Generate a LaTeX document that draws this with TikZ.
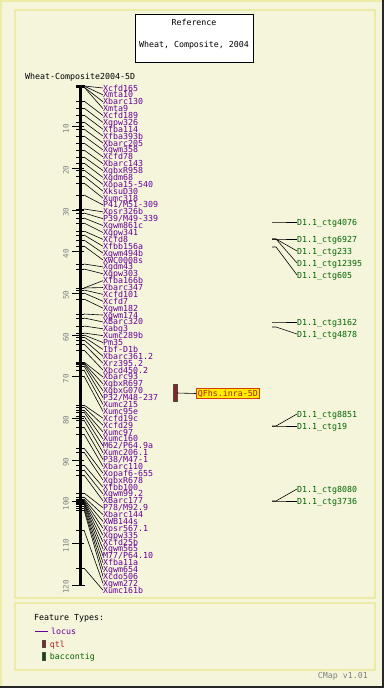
\documentclass[tikz,border=0pt]{standalone}
\usepackage{fontspec}
\newfontfamily\cmapfont{DejaVu Sans Mono}
\usetikzlibrary{positioning}
\definecolor{bgcream}{RGB}{245,245,220}
\definecolor{panelline}{RGB}{236,236,168}
\definecolor{locuscolor}{RGB}{102,0,153}
\definecolor{qtlcolor}{RGB}{140,35,35}
\definecolor{qtltext}{RGB}{170,30,30}
\definecolor{qtlfill}{RGB}{255,236,0}
\definecolor{qtledge}{RGB}{215,60,0}
\definecolor{baccolor}{RGB}{0,100,0}
\definecolor{scalegray}{RGB}{128,128,128}

\begin{document}
\begin{tikzpicture}[x=1pt, y=-1pt, font=\cmapfont\fontsize{8.3}{9}\selectfont]

  \useasboundingbox (0,0) rectangle (384,688);

  \tikzset{
    locus/.style={anchor=west, inner sep=0pt, text height=6pt,
      text depth=0pt, text=locuscolor},
    bac/.style={anchor=west, inner sep=0pt, text height=6pt,
      text depth=0pt, text=baccolor},
    marktick/.style={line width=0.8pt, black},
    markline/.style={line width=0.6pt, black},
    scalelab/.style={rotate=90, inner sep=0pt, text=scalegray,
      font=\cmapfont\fontsize{7.5}{8}\selectfont},
    legbar/.style={draw=black!70, line width=0.4pt, minimum width=3pt,
      inner sep=0pt}
  }

  % ---- frame and panels ----
  \fill[bgcream] (0,0) rectangle (384,688);
  \draw[panelline, line width=2pt] (1,688) -- (1,1) -- (384,1);
  \draw[black!85, line width=2pt] (383,0) -- (383,687) -- (0,687);
  \draw[panelline, line width=1.5pt] (15,10) rectangle (375,598);
  \draw[panelline, line width=1.5pt] (15,603) rectangle (375,670);

  % ---- title ----
  \node[draw, fill=white, line width=0.8pt, minimum width=118pt,
        minimum height=48pt] (titlebox) at (194,38) {};
  \node (titleref) at (194,22) {Reference};
  \node (titlemap) at (194,45) {Wheat, Composite, 2004};
  \node[anchor=west, inner sep=0pt] (mapname) at (25,77)
    {Wheat-Composite2004-5D};

  % ---- chromosome bar and scale ----
  \draw[line width=3pt] (80.5,85) -- (80.5,585);
  \draw[marktick] (76,85) -- (85,85);
  \draw[marktick] (76,585) -- (85,585);
  \foreach \k in {1,...,12} {
    \pgfmathsetmacro{\ty}{85+41.667*\k}
    \pgfmathtruncatemacro{\cmval}{10*\k}
    \coordinate (t\k) at (84,\ty);
    \draw[marktick] (72,\ty) -- (t\k);
    \node[scalelab] (s\k) at (66,\ty+2) {\cmval};
  }

  % ---- loci: marker position / label ----
  \foreach \my/\lab [count=\i] in {
      86/Xcfd165, 86/Xmta10, 87/Xbarc130, 87/Xmta9, 101/Xcfd189,
      108/Xgpw326, 115/Xfba114, 122/Xfba393b, 129/Xbarc205,
      136/Xgwm358, 143/Xcfd78, 150/Xbarc143, 157/XgbxR958,
      163/Xgdm68, 170/Xopa15-540, 176/XksuD30, 183/Xumc318,
      195/{P41/M51-309}, 209/Xpsr326b, 213/{P39/M49-339},
      218/Xgwm861c, 223/Xgpw341, 231/Xcfd8, 235/Xfbb156a,
      240/Xgwm494b, 246/XWC0008s, 264/Xgdm43, 269/Xgpw303,
      288/Xfba166b, 288/Xbarc347, 290/Xcfd101, 293/Xcfd7,
      299/Xgwm182, 314/Xgwm174, 318/XBarc320, 326/Xabg3,
      333/Xumc289b, 335/Pm35, 337/Ibf-D1b, 340/Xbarc361.2,
      344/Xrz395.2, 350/Xbcd450.2, 362/Xbarc93, 363/XgbxR697,
      364/XgbxG070, 366/{P32/M48-237}, 370/Xumc215, 376/Xumc95e,
      405/Xcfd19c, 407/Xcfd29, 410/Xumc97, 412/Xumc160,
      416/{M62/P64.9a}, 420/Xumc206.1, 427/{P38/M47-1},
      434/Xbarc110, 448/Xopaf6-655, 452/XgbxR678, 465/Xfbb100,
      470/Xgwm99.2, 475/XBarc177, 493/{P78/M92.9}, 497/Xbarc144,
      499/XWB144s, 500/Xpsr567.1, 501/Xgpw335, 502/Xcfd25b,
      503/Xgwm565, 504/{M77/P64.10}, 506/Xfba11a, 508/Xgwm654,
      510/Xcdo506, 530/Xgwm272, 568/Xumc161b} {
    \pgfmathsetmacro{\ly}{88+6.88*(\i-1)}
    \coordinate (m\i) at (84,\my);
    \node[locus] (l\i) at (103,\ly) {\lab};
    \draw[marktick] (76,\my) -- (m\i);
    \draw[markline] (m\i) -- (l\i.west);
  }

  % ---- QTL ----
  \node[legbar, fill=qtlcolor, minimum width=3.5pt, minimum height=17pt]
    (qtl) at (175,393) {};
  \node[draw=qtledge, fill=qtlfill, line width=0.8pt, inner sep=1.5pt,
        text height=6pt, text depth=0.5pt, text=qtltext, anchor=west]
    (qtllab) at (196,393.5) {QFhs.inra-5D};
  \draw[markline] (qtl.east) -- (qtllab.west);

  % ---- BAC contigs: marker position / label position / label ----
  \foreach \my/\ly/\lab [count=\j] in {
      222/222/4076, 239/239/6927, 239/251/233, 239/263/12395,
      247/275/605, 322/322/3162, 327/334/4878, 426/414/8851,
      426/426/19, 501/489/8080, 501/501/3736} {
    \coordinate (b\j) at (272,\my);
    \node[bac] (c\j) at (297,\ly) {D1.1\_ctg\lab};
    \draw[markline] (b\j) -- ++(4,0) -- (c\j.west);
  }

  % ---- legend ----
  \node[anchor=west, inner sep=0pt] (legtitle) at (34,618) {Feature Types:};
  \coordinate (legline) at (35,631);
  \node[locus] (leglocus) at (51,631) {locus};
  \draw[locuscolor, line width=0.8pt] (legline) -- ++(13,0);
  \node[legbar, fill=qtlcolor, minimum height=7pt] (legqtlbar) at (44,644) {};
  \node[anchor=west, inner sep=0pt, text height=6pt, text depth=0pt,
        text=qtltext, right=4pt of legqtlbar] (legqtl) {qtl};
  \node[legbar, fill=baccolor!80!black, minimum height=8pt]
    (legbacbar) at (44,656.5) {};
  \node[bac, right=4pt of legbacbar] (legbac) {baccontig};

  \node[anchor=east, inner sep=0pt, text=scalegray] (version) at (368,676)
    {CMap v1.01};

\end{tikzpicture}
\end{document}
